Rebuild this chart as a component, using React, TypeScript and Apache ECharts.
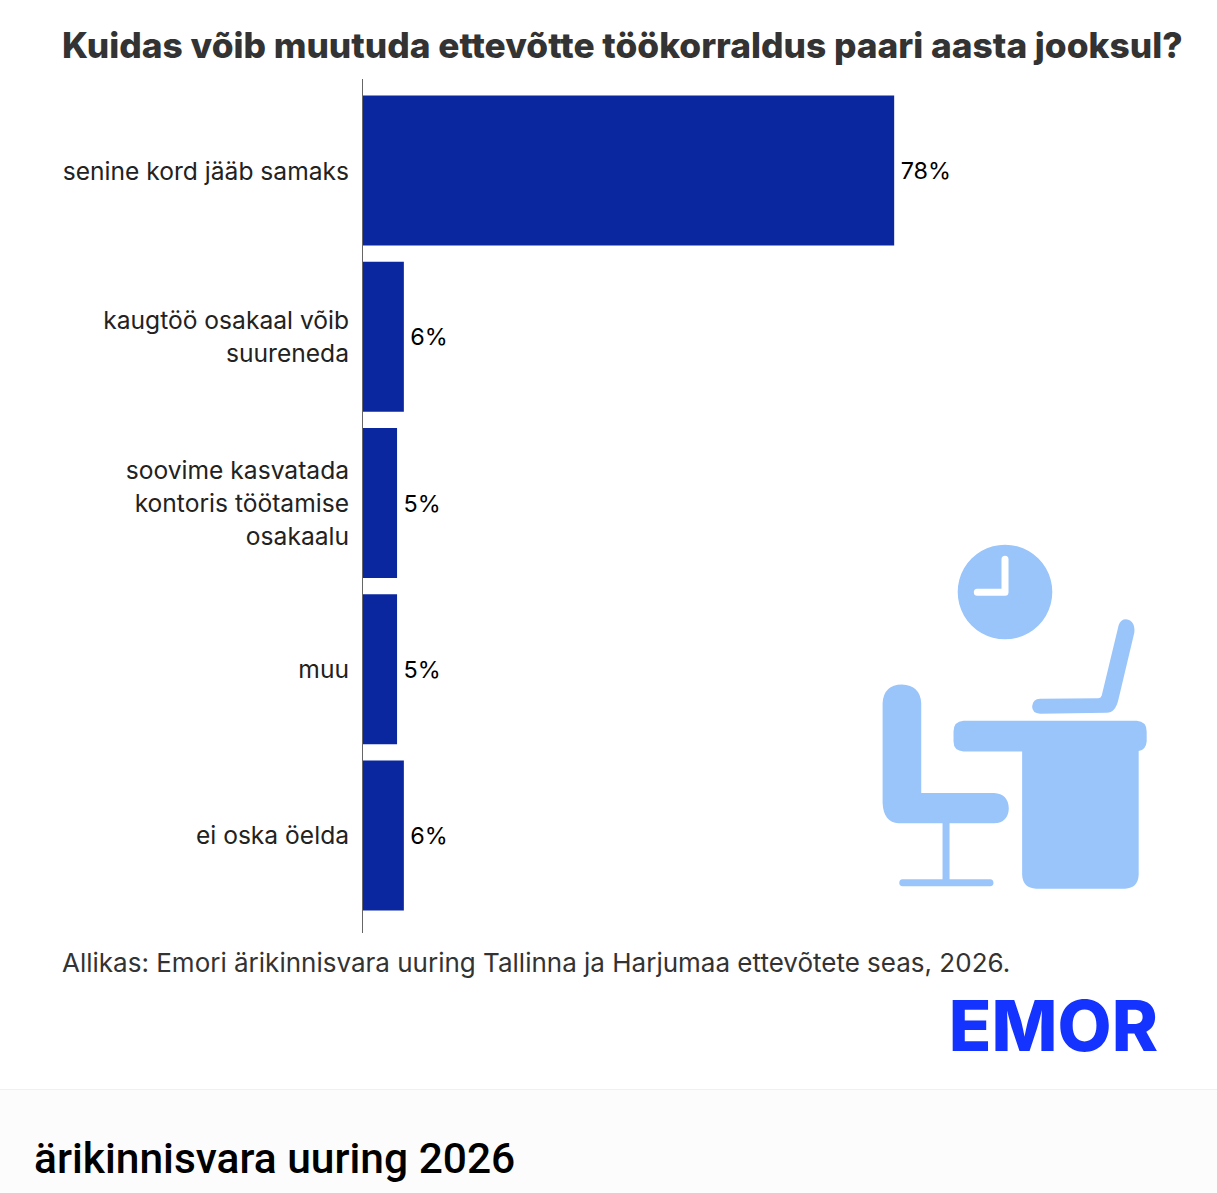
import React, { useEffect, useRef } from "react";
import * as echarts from "echarts";

const titleText = "Kuidas võib muutuda ettevõtte töökorraldus paari aasta jooksul?";
const sourceText = "Allikas: Emori ärikinnisvara uuring Tallinna ja Harjumaa ettevõtete seas, 2026.";
const logoText = "EMOR";
const footerText = "ärikinnisvara uuring 2026";
const categories = [
  "senine kord jääb samaks",
  "kaugtöö osakaal võib\nsuureneda",
  "soovime kasvatada\nkontoris töötamise\nosakaalu",
  "muu",
  "ei oska öelda",
];
const values = [78, 6, 5, 5, 6];

const laptopPath = "M806 285Q812 268 828 268Q856 272 853 308L805 510Q796 549 770 549L570 552Q546 550 546 530Q548 508 570 507L745 505Q753 505 755 497Z";
const deskPath = "M340 573L860 573Q890 575 890 605L890 635Q888 660 866 664L866 1035Q864 1075 825 1077L558 1077Q518 1075 516 1035L516 665L340 665Q310 663 310 635L310 605Q310 575 340 573Z";
const chairPath = "M97 520Q100 465 155 464Q210 466 213 520L213 790L432 790Q474 792 476 836Q474 878 432 881L298 881L298 1049L420 1049Q430 1050 430 1060Q430 1069 420 1070L157 1070Q147 1069 147 1060Q147 1050 157 1049L277 1049L277 881L145 881Q100 878 97 820Z";

echarts.graphic.registerShape("laptopIcon", echarts.graphic.extendPath(laptopPath as any, {}) as any);
echarts.graphic.registerShape("deskIcon", echarts.graphic.extendPath(deskPath as any, {}) as any);
echarts.graphic.registerShape("chairIcon", echarts.graphic.extendPath(chairPath as any, {}) as any);

const ICON = "#9AC5FB";
const FONT = "Inter";

export default function App() {
  const ref = useRef<HTMLDivElement>(null);
  useEffect(() => {
    const chart = echarts.init(ref.current!, null, { renderer: "svg" });
    const iconShape = (type: string) => ({ type, x: 850.3, y: 530, scaleX: 1 / 3, scaleY: 1 / 3, style: { fill: ICON }, silent: true });
    chart.setOption({
      animation: false,
      backgroundColor: "#ffffff",
      grid: { left: 363, top: 87.5, width: 681, height: 831, containLabel: false },
      xAxis: { type: "value", min: 0, max: 100, show: false },
      yAxis: {
        type: "category",
        inverse: true,
        data: categories,
        axisLine: { show: false },
        axisTick: { show: false },
        axisLabel: { color: "#222222", fontFamily: FONT, fontSize: 24.6, lineHeight: 33, margin: 14, align: "right" },
      },
      series: [
        {
          type: "bar",
          data: values,
          barWidth: 150,
          itemStyle: { color: "#0B27A0" },
          label: { show: true, position: "right", distance: 6.5, formatter: "{c}%", color: "#000000", fontFamily: FONT, fontSize: 23.4 },
        },
      ],
      graphic: [
        { type: "rect", shape: { x: 0, y: 1090, width: 1217, height: 103 }, style: { fill: "#FCFCFC" }, silent: true },
        { type: "line", shape: { x1: 0, y1: 1089.5, x2: 1217, y2: 1089.5 }, style: { stroke: "#F0F0F0", lineWidth: 1 }, silent: true },
        { type: "line", shape: { x1: 362.5, y1: 79, x2: 362.5, y2: 933 }, style: { stroke: "#666666", lineWidth: 1 }, silent: true },
        { type: "text", x: 62, y: 45, style: { text: titleText, fill: "#333333", fontFamily: FONT, fontWeight: 800, fontSize: 35.3, textVerticalAlign: "middle" } },
        { type: "text", x: 62, y: 962, style: { text: sourceText, fill: "#333333", fontFamily: FONT, fontSize: 26, textVerticalAlign: "middle" } },
        { type: "text", x: 1158, y: 1025, style: { text: logoText, fill: "#1433FF", fontFamily: FONT, fontWeight: 800, fontSize: 70, textAlign: "right", textVerticalAlign: "middle" } },
        { type: "text", x: 34, y: 1158, style: { text: footerText, fill: "#000000", fontFamily: "Roboto", fontWeight: 500, fontSize: 42.5, textVerticalAlign: "middle" } },
        { type: "circle", shape: { cx: 1005, cy: 592, r: 47.3 }, style: { fill: ICON }, silent: true },
        { type: "polyline", shape: { points: [[1005, 559.3], [1005, 592.3], [977.3, 592.3]] }, style: { stroke: "#ffffff", lineWidth: 7, lineCap: "round", lineJoin: "round", fill: "none" }, silent: true },
        iconShape("laptopIcon"),
        iconShape("deskIcon"),
        iconShape("chairIcon"),
      ],
    });
    return () => chart.dispose();
  }, []);
  return <div ref={ref} style={{ position: "absolute", left: 0, top: 0, width: 1217, height: 1193 }} />;
}
